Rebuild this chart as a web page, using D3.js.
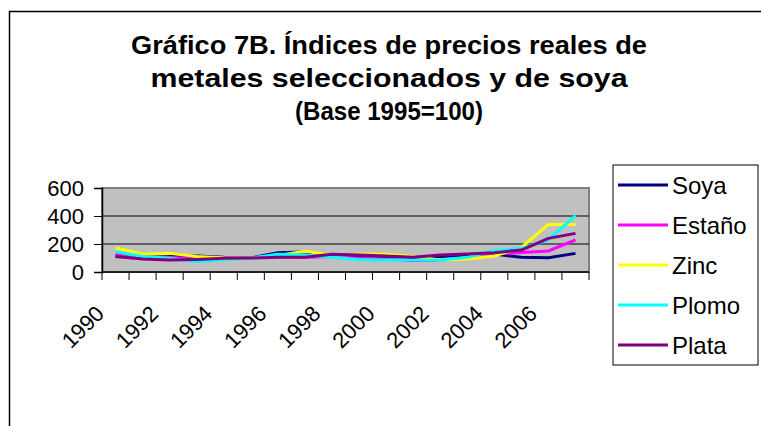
<!DOCTYPE html>
<html>
<head>
<meta charset="utf-8">
<script src="https://cdn.jsdelivr.net/npm/d3@7"></script>
<style>
  body { margin: 0; background: #fff; }
  svg { display: block; font-family: Arial, "Liberation Sans", sans-serif; }
</style>
</head>
<body>
<div id="chart"></div>
<script>
(function () {
    'use strict';

    const years = d3.range(1990, 2008);
    const yTicks = [0, 200, 400, 600];
    const xTickLabels = [1990, 1992, 1994, 1996, 1998, 2000, 2002, 2004, 2006];
    const titleLines = [
        'Gráfico 7B. Índices de precios reales de',
        'metales seleccionados y de soya',
        '(Base 1995=100)'
    ];
    // widths of the title lines as measured on the original
    const titleWidths = [516, 477, 188];

    const soya = [110, 105, 110, 115, 105, 100, 138, 142, 121, 110, 112, 105, 110, 121, 129, 105, 102, 133];
    const estano = [128, 105, 105, 92, 100, 100, 110, 105, 110, 98, 93, 82, 86, 98, 129, 140, 150, 229];
    const zinc = [171, 128, 133, 110, 102, 100, 118, 148, 121, 126, 126, 110, 86, 93, 114, 175, 340, 340];
    const plomo = [145, 110, 98, 74, 90, 100, 126, 121, 105, 90, 86, 86, 86, 105, 152, 169, 229, 402];
    const plata = [110, 93, 86, 90, 98, 100, 105, 105, 126, 121, 114, 105, 121, 129, 138, 157, 240, 276];

    const series = [
        { name: 'Soya', color: '#000080', values: soya },
        { name: 'Estaño', color: '#ff00ff', values: estano },
        { name: 'Zinc', color: '#ffff00', values: zinc },
        { name: 'Plomo', color: '#00ffff', values: plomo },
        { name: 'Plata', color: '#800080', values: plata }
    ];

    const W = 761, H = 426;
    const plot = { left: 102, top: 188, right: 589, bottom: 272 };

    const svg = d3.select('#chart').append('svg').attr('width', W).attr('height', H);

    // marco exterior del gráfico (cortado a la derecha y abajo)
    svg.append('rect').attr('x', 9.5).attr('y', 11.5).attr('width', 800).attr('height', 500)
        .attr('fill', '#fff').attr('stroke', '#000').attr('stroke-width', 1.5);

    svg.append('g').selectAll('text').data(titleLines).enter().append('text')
        .attr('x', 389).attr('y', function (d, i) { return 54 + i * 33; })
        .attr('text-anchor', 'middle').style('font-size', '25px').style('font-weight', 'bold')
        .attr('textLength', function (d, i) { return titleWidths[i]; })
        .attr('lengthAdjust', 'spacingAndGlyphs')
        .text(function (d) { return d; });

    const xScale = d3.scaleBand().domain(years).range([plot.left, plot.right]);
    const yScale = d3.scaleLinear().domain([0, 600]).range([plot.bottom, plot.top]);

    svg.append('rect').attr('x', plot.left).attr('y', plot.top)
        .attr('width', plot.right - plot.left).attr('height', plot.bottom - plot.top)
        .attr('fill', '#c0c0c0').attr('stroke', '#808080').attr('stroke-width', 2);

    svg.append('g').selectAll('line').data(yTicks.filter(function (d) { return d > 0 && d < 600; }))
        .enter().append('line')
        .attr('x1', plot.left).attr('x2', plot.right)
        .attr('y1', function (d) { return yScale(d); }).attr('y2', function (d) { return yScale(d); })
        .attr('stroke', '#000').attr('stroke-width', 1);

    const yAxis = d3.axisLeft(yScale).tickValues(yTicks).tickSize(8).tickPadding(10);
    svg.append('g').attr('transform', 'translate(' + plot.left + ',0)').call(yAxis)
        .call(function (g) { g.select('.domain').attr('stroke-width', 1.5); })
        .selectAll('text').style('font-size', '22px').style('font-family', 'Arial, "Liberation Sans", sans-serif')
        .attr('fill', '#000');

    // eje de categorías: marcas entre categorías
    const xAxisG = svg.append('g').attr('transform', 'translate(0,' + plot.bottom + ')');
    xAxisG.append('line').attr('x1', plot.left).attr('x2', plot.right).attr('stroke', '#000').attr('stroke-width', 1.5);
    xAxisG.selectAll('.tick').data(years.concat([2008])).enter().append('line').attr('class', 'tick')
        .attr('x1', function (d) { return d === 2008 ? plot.right : xScale(d); })
        .attr('x2', function (d) { return d === 2008 ? plot.right : xScale(d); })
        .attr('y1', 0).attr('y2', 8).attr('stroke', '#000').attr('stroke-width', 1);
    xAxisG.selectAll('.lbl').data(xTickLabels).enter().append('text').attr('class', 'lbl')
        .attr('transform', function (d) {
            return 'translate(' + (xScale(d) + xScale.bandwidth() / 2 - 10) + ',43) rotate(-45)';
        })
        .attr('text-anchor', 'end').style('font-size', '22px')
        .text(function (d) { return d; });

    const line = d3.line()
        .x(function (d, i) { return xScale(years[i]) + xScale.bandwidth() / 2; })
        .y(function (d) { return yScale(d); });

    svg.append('g').selectAll('path').data(series).enter().append('path')
        .attr('d', function (d) { return line(d.values); })
        .attr('fill', 'none').attr('stroke', function (d) { return d.color; })
        .attr('stroke-width', 3).attr('stroke-linejoin', 'round');

    // leyenda
    const legend = svg.append('g').attr('transform', 'translate(613,165)');
    legend.append('rect').attr('width', 145).attr('height', 200)
        .attr('fill', '#fff').attr('stroke', '#000').attr('stroke-width', 1);
    const items = legend.selectAll('.item').data(series).enter().append('g').attr('class', 'item')
        .attr('transform', function (d, i) { return 'translate(0,' + (20 + i * 40) + ')'; });
    items.append('line').attr('x1', 5).attr('x2', 55).attr('stroke', function (d) { return d.color; })
        .attr('stroke-width', 3);
    items.append('text').attr('x', 59).attr('dy', '0.36em').style('font-size', '24px')
        .text(function (d) { return d.name; });
}());
</script>
</body>
</html>
